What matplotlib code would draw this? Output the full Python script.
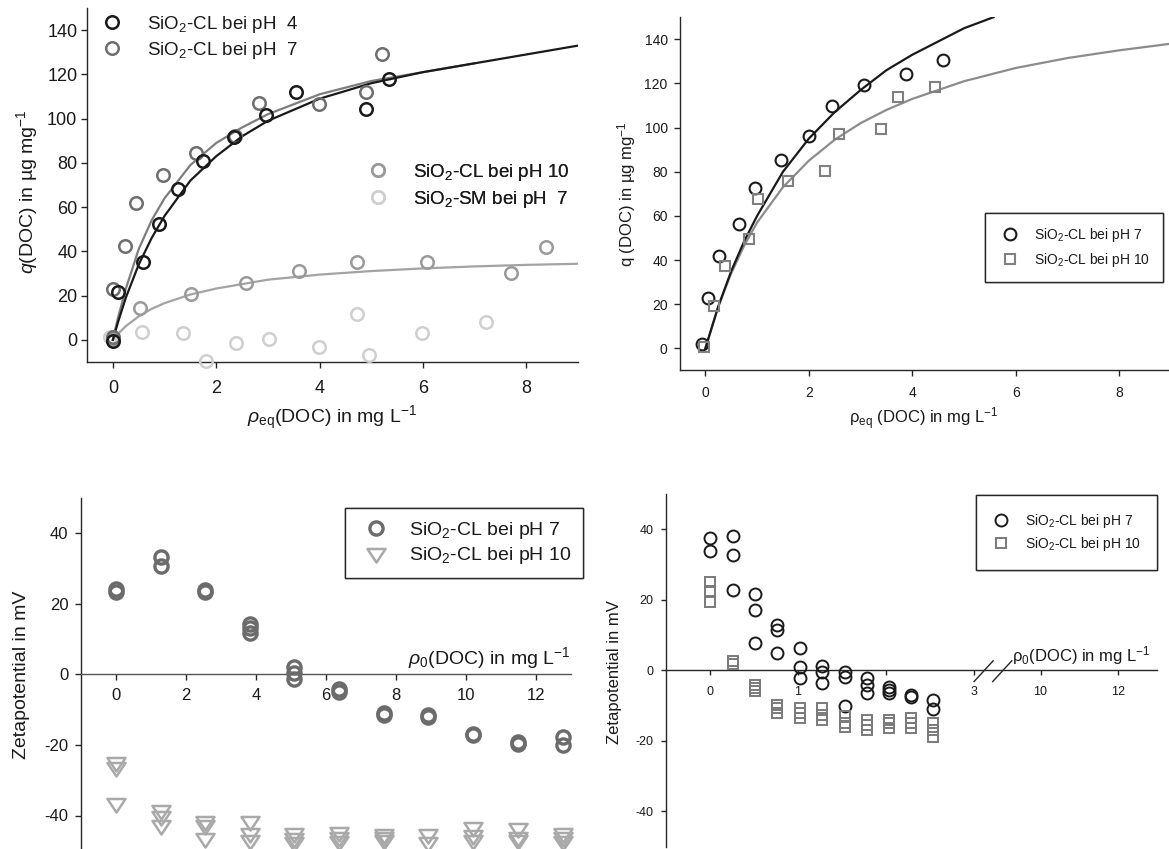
import numpy as np
import matplotlib
matplotlib.use("Agg")
import matplotlib.pyplot as plt
import matplotlib.transforms as mtransforms
from matplotlib.path import Path

plt.rcParams['font.family'] = ['Liberation Sans', 'DejaVu Sans']
plt.rcParams['mathtext.fontset'] = 'custom'
plt.rcParams['mathtext.rm'] = 'Liberation Sans'
plt.rcParams['mathtext.it'] = 'Liberation Sans:italic'
plt.rcParams['mathtext.bf'] = 'Liberation Sans:bold'
plt.rcParams['axes.unicode_minus'] = False

# ---------------- data: top left (isotherms, 4 series) ----------------
a_ph4_x = [0, 0.1, 0.58, 0.9, 1.26, 1.74, 2.35, 2.97, 3.55, 4.89, 5.35]
a_ph4_y = [-0.3, 21.8, 35, 52.4, 68.4, 81, 91.9, 101.7, 111.9, 104.2, 117.9]
a_ph7_x = [0, 0, 0.23, 0.44, 0.97, 1.61, 2.37, 2.83, 3.99, 4.89, 5.21]
a_ph7_y = [1.2, 23.2, 42.6, 61.7, 74.4, 84.6, 92.2, 107.2, 106.6, 111.9, 129]
a_ph10_x = [0, 0.52, 1.52, 2.57, 3.61, 4.72, 6.07, 7.71, 8.38]
a_ph10_y = [0.5, 14.3, 20.8, 25.9, 31.2, 35.4, 35.4, 30.1, 42.2]
a_sm_x = [-0.05, 0.57, 1.35, 1.81, 2.39, 3.03, 3.99, 4.72, 4.95, 5.98, 7.22]
a_sm_y = [1.5, 3.5, 3.0, -9.5, -1.5, 0.3, -3.0, 11.7, -6.8, 3.0, 8.3]

a_fit4_x = [0, 0.1, 0.25, 0.5, 0.75, 1, 1.5, 2, 2.5, 3, 4, 5, 6, 7, 8, 9]
a_fit4_y = [0, 8, 19, 34, 46, 56, 72, 83, 92, 99, 109, 116, 121, 125, 129, 133]
a_fit7_x = [0, 0.1, 0.25, 0.5, 0.75, 1, 1.5, 2, 2.5, 3, 4, 5, 6, 7]
a_fit7_y = [0, 10, 23, 41, 54, 64, 79, 89, 96, 102, 111, 117, 121, 125]
a_fit10_x = [0, 0.1, 0.25, 0.5, 0.75, 1, 1.5, 2, 3, 4, 5, 6, 7, 8, 9]
a_fit10_y = [0, 2.7, 6.2, 10.6, 14.0, 16.6, 20.5, 23.2, 27.2, 29.5, 31.1, 32.3, 33.2, 33.9, 34.4]

# ---------------- data: top right ----------------
b_ph7_x = [-0.07, 0.05, 0.27, 0.65, 0.95, 1.46, 2.0, 2.45, 3.06, 3.87, 4.6]
b_ph7_y = [2, 22.6, 41.8, 56.1, 72.7, 85.5, 96.1, 109.7, 119.2, 124.2, 130.5]
b_ph10_x = [-0.02, 0.17, 0.37, 0.84, 1.01, 1.6, 2.32, 2.58, 3.39, 3.72, 4.44]
b_ph10_y = [0.5, 19.3, 37.4, 49.3, 67.7, 75.7, 80.3, 97.3, 99.3, 113.9, 118.4]

b_fit7_x = [0, 0.25, 0.5, 0.75, 1, 1.5, 2, 2.5, 3, 3.5, 4, 4.5, 5, 5.57]
b_fit7_y = [0, 19, 35, 48.5, 60, 80, 95, 107, 117, 126, 133, 139, 145, 150]
b_fit10_x = [0, 0.25, 0.5, 0.75, 1, 1.5, 2, 2.5, 3, 3.5, 4, 5, 6, 7, 8, 9]
b_fit10_y = [0, 19, 34, 46.5, 57, 73, 85, 94.5, 102, 108, 113, 121, 127, 131.5, 135, 138]

# ---------------- data: bottom left (zeta potential) ----------------
c_ph7_x = [0, 0, 1.28, 1.28, 2.55, 2.55, 3.83, 3.83, 3.83, 5.1, 5.1, 5.1,
           6.38, 6.38, 7.66, 7.66, 8.93, 8.93, 10.2, 10.2, 11.5, 11.5, 12.77, 12.77]
c_ph7_y = [24.2, 23.4, 33.2, 30.6, 23.8, 23.2, 14.2, 13.0, 11.8, 2.0, 0.3, -1.4,
           -4.3, -4.9, -11.0, -11.5, -11.6, -12.1, -16.8, -17.3, -19.3, -19.8, -17.9, -19.9]
c_ph10_x = [0, 0, 0, 1.28, 1.28, 1.28, 2.55, 2.55, 2.55, 3.83, 3.83, 3.83,
            5.1, 5.1, 5.1, 6.38, 6.38, 6.38, 7.66, 7.66, 7.66, 8.93, 8.93,
            10.2, 10.2, 10.2, 11.5, 11.5, 11.5, 12.77, 12.77, 12.77]
c_ph10_y = [-24.8, -26.3, -36.4, -38.5, -40.0, -42.8, -41.5, -42.8, -46.5, -41.5, -45.0, -47.0,
            -45.0, -46.5, -47.5, -44.6, -46.0, -47.2, -45.2, -46.0, -46.9, -45.2, -47.4,
            -43.3, -45.6, -47.0, -43.6, -46.0, -47.0, -45.0, -46.0, -47.2]

# ---------------- data: bottom right (zeta potential, broken axis) ----------------
d_ph7_x = [0, 0, 0.26, 0.26, 0.26, 0.51, 0.51, 0.51, 0.76, 0.76, 0.76,
           1.02, 1.02, 1.02, 1.27, 1.27, 1.27, 1.53, 1.53, 1.53, 1.79, 1.79, 1.79,
           2.04, 2.04, 2.04, 2.29, 2.29, 2.54, 2.54]
d_ph7_y = [37.6, 33.9, 38.0, 32.6, 22.7, 21.5, 17.1, 7.8, 12.8, 11.4, 5.0,
           6.2, 1.0, -2.3, 1.3, -0.4, -3.7, -0.5, -1.8, -10.1, -2.3, -4.2, -6.3,
           -4.6, -5.6, -6.5, -7.0, -7.6, -8.4, -11.0]
d_ph10_x = [0, 0, 0, 0.26, 0.26, 0.51, 0.51, 0.51, 0.76, 0.76, 0.76,
            1.02, 1.02, 1.02, 1.27, 1.27, 1.27, 1.53, 1.53, 1.53, 1.79, 1.79, 1.79,
            2.04, 2.04, 2.04, 2.29, 2.29, 2.29, 2.54, 2.54, 2.54]
d_ph10_y = [25.0, 22.5, 19.5, 2.6, 1.8, -4.2, -5.1, -6.0, -9.8, -10.8, -12.2,
            -10.8, -12.2, -13.6, -10.8, -12.7, -14.1, -13.1, -15.0, -16.0, -14.1, -15.5, -16.9,
            -14.1, -15.0, -16.4, -13.6, -15.0, -16.4, -15.0, -16.9, -18.8]
d_ticks = [0, 1, 2, 3, 10, 12]
d_ticklabels = ['0', '1', '', '3', '10', '12']

# ---------------- layout helpers ----------------
W, H = 1169, 849
fig = plt.figure(figsize=(W / 100, H / 100), dpi=100)


def px_rect(l, t, r, b):
    return [l / W, 1 - b / H, (r - l) / W, (b - t) / H]


def px(x, y):
    return (x / W, 1 - y / H)


SPINE = '#262626'
TXT = '#1a1a1a'


def style_axes(ax, tick_size, xpad, ypad, tlen):
    for s in ['top', 'right']:
        ax.spines[s].set_visible(False)
    for s in ['left', 'bottom']:
        ax.spines[s].set_color(SPINE)
        ax.spines[s].set_linewidth(1.0)
    ax.tick_params(direction='out', length=tlen, width=1.0, color=SPINE,
                   labelsize=tick_size, labelcolor=TXT)
    ax.tick_params(axis='x', pad=xpad)
    ax.tick_params(axis='y', pad=ypad)
    ax.patch.set_visible(False)


def hollow(ax, x, y, marker, ms, color, mew, z=3):
    return ax.plot(x, y, linestyle='none', marker=marker, ms=ms, mfc='none',
                   mec=color, mew=mew, clip_on=False, zorder=z)[0]


def place_legend(ax, handles, labels, left, top, size, frame, **kw):
    leg = ax.legend(handles, labels, loc='upper left', bbox_to_anchor=px(left, top),
                    bbox_transform=fig.transFigure, borderaxespad=0, frameon=frame,
                    fancybox=False, framealpha=1, fontsize=size, **kw)
    if frame:
        leg.get_frame().set_edgecolor(SPINE)
        leg.get_frame().set_linewidth(1.0)
    for t in leg.get_texts():
        t.set_color(TXT)
    ax.add_artist(leg)
    return leg


# ---------------- top left ----------------
axA = fig.add_axes(px_rect(87, 8, 578, 362))
axA.set_xlim(-0.5, 9)
axA.set_ylim(-10, 150)
axA.set_xticks([0, 2, 4, 6, 8])
axA.set_yticks(range(0, 141, 20))
style_axes(axA, 13, 8.5, 2.5, 4.5)
axA.plot(a_fit10_x, a_fit10_y, color='#a3a3a3', lw=1.6, zorder=2)
axA.plot(a_fit7_x, a_fit7_y, color='#7d7d7d', lw=1.6, zorder=2)
axA.plot(a_fit4_x, a_fit4_y, color='#1a1a1a', lw=1.6, zorder=2)
hA_sm = hollow(axA, a_sm_x, a_sm_y, 'o', 9, '#cfcfcf', 1.8)
hA_10 = hollow(axA, a_ph10_x, a_ph10_y, 'o', 9, '#9a9a9a', 1.8)
hA_7 = hollow(axA, a_ph7_x, a_ph7_y, 'o', 9, '#6e6e6e', 1.8)
hA_4 = hollow(axA, a_ph4_x, a_ph4_y, 'o', 9, '#1a1a1a', 1.8)
place_legend(axA, [hA_4, hA_7], ['SiO$_2$-CL bei pH  4', 'SiO$_2$-CL bei pH  7'],
             103, 14, 13.5, False, borderpad=0, handlelength=1.0,
             handletextpad=1.35, labelspacing=0.25)
place_legend(axA, [hA_10, hA_sm], ['SiO$_2$-CL bei pH 10', 'SiO$_2$-SM bei pH  7'],
             369, 162, 13.5, False, borderpad=0, handlelength=1.0,
             handletextpad=1.35, labelspacing=0.3)
fig.text(*px(27, 192), '$q$(DOC) in µg mg$^{-1}$', rotation=90, ha='center',
         va='center', fontsize=14, color=TXT)
fig.text(*px(332, 418), r'$\mathit{ρ}_\mathrm{eq}$(DOC) in mg L$^{-1}$', ha='center',
         va='center', fontsize=14, color=TXT)

# ---------------- top right ----------------
axB = fig.add_axes(px_rect(679.5, 17.2, 1171, 370.4))
axB.set_xlim(-0.5, 9)
axB.set_ylim(-10, 150)
axB.set_xticks([0, 2, 4, 6, 8])
axB.set_yticks(range(0, 141, 20))
style_axes(axB, 10, 7, 4, 4.5)
axB.plot(b_fit10_x, b_fit10_y, color='#8c8c8c', lw=1.6, zorder=2)
axB.plot(b_fit7_x, b_fit7_y, color='#1a1a1a', lw=1.6, zorder=2)
hB_7 = hollow(axB, b_ph7_x, b_ph7_y, 'o', 8.5, '#1a1a1a', 1.5)
hB_10 = hollow(axB, b_ph10_x, b_ph10_y, 's', 7.3, '#808080', 1.5)
place_legend(axB, [hB_7, hB_10], ['SiO$_2$-CL bei pH 7', 'SiO$_2$-CL bei pH 10'],
             985, 213, 10, True, borderpad=0.95, handlelength=1.65,
             handletextpad=0.9, labelspacing=0.5)
fig.text(*px(627, 194), 'q (DOC) in µg mg$^{-1}$', rotation=90, ha='center',
         va='center', fontsize=12, color=TXT)
fig.text(*px(924, 419), 'ρ$_\\mathrm{eq}$ (DOC) in mg L$^{-1}$', ha='center',
         va='center', fontsize=12, color=TXT)

# ---------------- bottom left ----------------
# downward triangle, a bit wider than tall, closed path
tri = Path([(-1, 0.5), (1, 0.5), (0, -1.0), (-1, 0.5)],
           [Path.MOVETO, Path.LINETO, Path.LINETO, Path.CLOSEPOLY])
axC = fig.add_axes(px_rect(80.9, 497.8, 570.7, 850.8))
axC.set_xlim(-1, 13)
axC.set_ylim(-50, 50)
axC.spines['bottom'].set_position(('data', 0))
axC.set_xticks(range(0, 13, 2))
axC.set_yticks([-40, -20, 0, 20, 40])
style_axes(axC, 12, 6, 5, 4)
axC.spines['bottom'].set_color('#555555')
hC_7 = hollow(axC, c_ph7_x, c_ph7_y, 'o', 9.5, '#6b6b6b', 2.4)
hC_10 = hollow(axC, c_ph10_x, c_ph10_y, tri, 13, '#a9a9a9', 1.8)
place_legend(axC, [hC_7, hC_10], ['SiO$_2$-CL bei pH 7', 'SiO$_2$-CL bei pH 10'],
             345, 508, 14, True, borderpad=0.6, handlelength=2.0,
             handletextpad=0.7, labelspacing=0.22)
fig.text(*px(21.5, 675), 'Zetapotential in mV', rotation=90, ha='center',
         va='center', fontsize=14, color=TXT)
fig.text(*px(570, 671), r'$\mathit{ρ}_0$(DOC) in mg L$^{-1}$', ha='right',
         va='bottom', fontsize=14, color=TXT)

# ---------------- bottom right (broken x axis) ----------------
brk_in = [-100, 3, 10, 100]
brk_out = [-100, 3, 3.758, 3.758 + 90 * 0.4394]


def fwd(x):
    return np.interp(x, brk_in, brk_out)


def inv(p):
    return np.interp(p, brk_out, brk_in)


axD = fig.add_axes(px_rect(666, 494, 1156.5, 846.6))
axD.set_xscale('function', functions=(fwd, inv))
axD.set_xlim(-0.5, 13)
axD.set_ylim(-50, 50)
axD.spines['bottom'].set_position(('data', 0))
axD.set_xticks(d_ticks)
axD.set_xticklabels(d_ticklabels)
axD.xaxis.set_minor_locator(matplotlib.ticker.NullLocator())
axD.set_yticks([-40, -20, 0, 20, 40])
style_axes(axD, 9, 8, 5.5, 3.5)
hD_7 = hollow(axD, d_ph7_x, d_ph7_y, 'o', 8.6, '#1a1a1a', 1.4)
hD_10 = hollow(axD, d_ph10_x, d_ph10_y, 's', 7.5, '#7a7a7a', 1.4)
place_legend(axD, [hD_7, hD_10], ['SiO$_2$-CL bei pH 7', 'SiO$_2$-CL bei pH 10'],
             976, 495, 10, True, borderpad=1.2, handlelength=1.2,
             handletextpad=1.1, labelspacing=0.4)
brk = mtransforms.blended_transform_factory(axD.transAxes, axD.transData)
for x0 in (0.628, 0.666):
    axD.plot([x0, x0 + 0.039], [-3.2, 2.7], transform=brk, color=SPINE,
             lw=1.0, clip_on=False)
fig.text(*px(614, 672), 'Zetapotential in mV', rotation=90, ha='center',
         va='center', fontsize=12, color=TXT)
fig.text(*px(1151, 667), 'ρ$_0$(DOC) in mg L$^{-1}$', ha='right',
         va='bottom', fontsize=12, color=TXT)

fig.savefig('out.png', dpi=100)
